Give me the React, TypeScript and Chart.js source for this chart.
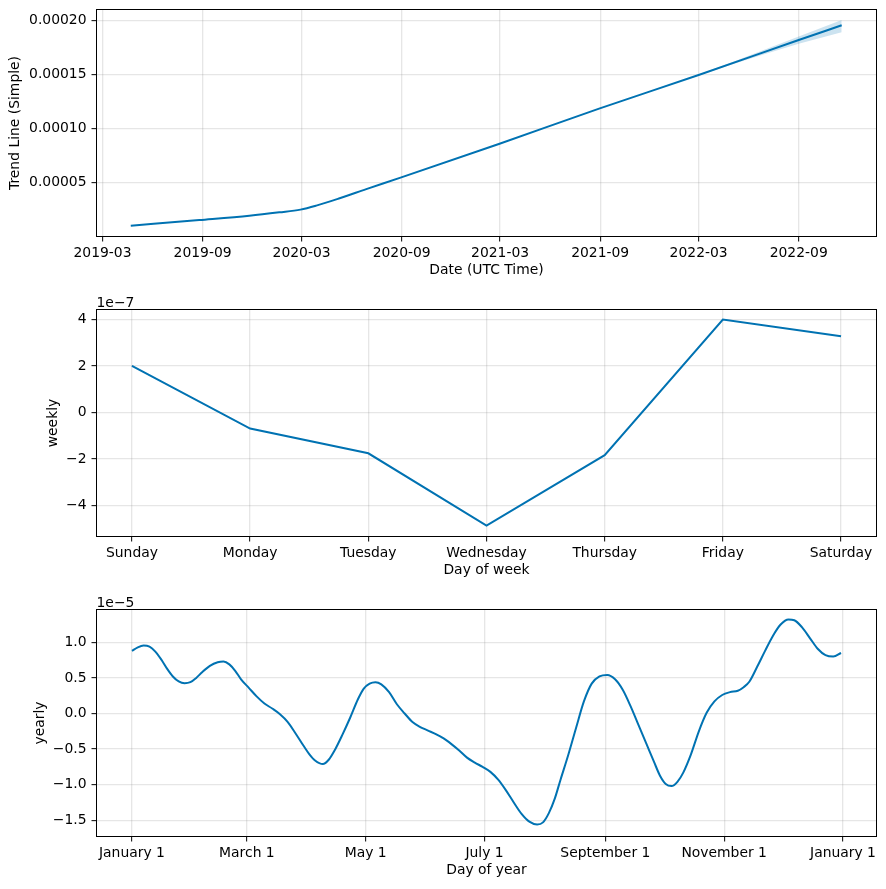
import React, { useEffect, useRef } from "react";
import { Chart, registerables } from "chart.js";

Chart.register(...registerables);

// ---------- Trend panel data ----------
const trendDates = [
  "2019-04-22", "2019-08-26", "2019-11-26", "2020-01-20", "2020-02-28",
  "2020-03-28", "2020-05-10", "2020-06-28", "2020-08-30", "2021-02-28",
  "2021-08-30", "2022-03-01", "2022-09-01", "2022-11-19",
];
const trendValues = [
  0.0000105, 0.0000157, 0.0000197, 0.0000228, 0.0000253,
  0.000029, 0.0000358, 0.0000442, 0.0000548, 0.0000861,
  0.0001185, 0.0001496, 0.0001818, 0.0001954,
];
const bandDates = ["2022-01-15", "2022-03-01", "2022-05-01", "2022-07-01", "2022-09-01", "2022-11-19"];
const bandUpper = [0.0001421, 0.0001500, 0.0001613, 0.0001731, 0.0001851, 0.0002003];
const bandLower = [0.0001419, 0.0001492, 0.0001593, 0.0001689, 0.0001785, 0.0001889];
const trendTickDates = [
  "2019-03-01", "2019-09-01", "2020-03-01", "2020-09-01",
  "2021-03-01", "2021-09-01", "2022-03-01", "2022-09-01",
];
const trendTickLabels = ["2019-03", "2019-09", "2020-03", "2020-09", "2021-03", "2021-09", "2022-03", "2022-09"];
const trendYTicks = [0.00005, 0.0001, 0.00015, 0.0002];

// ---------- Weekly panel data ----------
const weekDays = ["Sunday", "Monday", "Tuesday", "Wednesday", "Thursday", "Friday", "Saturday"];
const weeklyValues = [2.0e-7, -0.69e-7, -1.75e-7, -4.85e-7, -1.83e-7, 3.99e-7, 3.27e-7];
const weeklyYTicks = [-4e-7, -2e-7, 0, 2e-7, 4e-7];

// ---------- Yearly panel data (day of year, value) ----------
const yearDays = [
  0, 3, 6, 9, 12, 15, 18, 21, 24, 27, 30, 33, 36, 40, 44, 47, 50, 53, 56, 60,
  64, 68, 72, 76, 80, 84, 88, 91, 94, 98, 101, 104, 108, 112, 116, 119, 122, 125, 128, 132,
  136, 140, 144, 148, 152, 156, 160, 164, 168, 172, 176, 180, 184, 188, 192, 196, 200, 204, 208, 211,
  214, 217, 220, 224, 228, 232, 236, 240, 244, 248, 252, 256, 260, 264, 268, 271, 274, 277, 280, 283,
  287, 291, 295, 299, 303, 307, 311, 314, 317, 321, 325, 329, 333, 337, 340, 344, 348, 352, 356, 360, 364,
];
const yearlyValues = [
  0.88, 0.93, 0.955, 0.94, 0.87, 0.76, 0.63, 0.52, 0.45, 0.425, 0.44, 0.5, 0.58, 0.67, 0.72, 0.73, 0.69, 0.6, 0.48, 0.36,
  0.24, 0.14, 0.07, -0.01, -0.12, -0.28, -0.45, -0.57, -0.66, -0.71, -0.65, -0.52, -0.3, -0.06, 0.2, 0.35, 0.42, 0.44, 0.41, 0.3,
  0.13, 0.0, -0.12, -0.19, -0.24, -0.29, -0.35, -0.43, -0.52, -0.62, -0.69, -0.75, -0.82, -0.93, -1.08, -1.25, -1.41, -1.52, -1.56, -1.53,
  -1.4, -1.2, -0.93, -0.58, -0.2, 0.17, 0.42, 0.52, 0.54, 0.48, 0.33, 0.1, -0.16, -0.42, -0.68, -0.87, -0.99, -1.02, -0.96, -0.83,
  -0.57, -0.25, 0.01, 0.17, 0.26, 0.3, 0.32, 0.37, 0.45, 0.66, 0.88, 1.09, 1.25, 1.32, 1.31, 1.21, 1.06, 0.91, 0.82, 0.8, 0.85,
].map((v) => v * 1e-5);
const yearTickDays = [0, 59, 120, 181, 243, 304, 365];
const yearTickLabels = ["January 1", "March 1", "May 1", "July 1", "September 1", "November 1", "January 1"];
const yearlyYTicks = [-1.5e-5, -1.0e-5, -0.5e-5, 0, 0.5e-5, 1.0e-5];

// ---------- helpers ----------
const dayNum = (s: string) => {
  const [y, m, d] = s.split("-").map(Number);
  return Date.UTC(y, m - 1, d) / 86400000;
};

const FONT = { family: "'DejaVu Sans', sans-serif", size: 13.9 };
const BLUE = "#0072B2";
const GRID = "rgba(128,128,128,0.2)";
const PLOT_H = 227;
const AXIS_W = 96.5;
const RIGHT_PAD = 9.5;

const minus = (s: string) => s.replace("-", "\u2212");

const framePlugin = {
  id: "frame",
  afterDraw(chart: any, _args: any, opts: any) {
    const { ctx, chartArea: a } = chart;
    ctx.save();
    ctx.strokeStyle = "#000";
    ctx.lineWidth = 1;
    ctx.strokeRect(a.left, a.top, a.right - a.left, a.bottom - a.top);
    if (opts && opts.offsetText) {
      ctx.fillStyle = "#000";
      ctx.font = `${FONT.size}px ${FONT.family}`;
      ctx.textAlign = "left";
      ctx.textBaseline = "alphabetic";
      ctx.fillText(opts.offsetText, a.left, a.top - 2.8);
    }
    ctx.restore();
  },
};

function buildScales(p: {
  canvasH: number; plotTop: number;
  xMin: number; xMax: number; xTicks: number[]; xLabel: (v: number, i: number) => string; xTitle: string;
  yMin: number; yMax: number; yTicks: number[]; yLabel: (v: number) => string; yTitle: string; yTitlePad: number;
}) {
  const xH = p.canvasH - p.plotTop - PLOT_H;
  return {
    x: {
      type: "linear",
      min: p.xMin,
      max: p.xMax,
      afterBuildTicks: (s: any) => { s.ticks = p.xTicks.map((v) => ({ value: v })); },
      afterFit: (s: any) => { s.height = xH; s.paddingLeft = 0; s.paddingRight = 0; },
      ticks: {
        callback: (v: any, i: number) => p.xLabel(v, i),
        font: FONT, color: "#000", padding: 3.6, maxRotation: 0, autoSkip: false,
      },
      grid: { color: GRID, lineWidth: 1.3, tickColor: "#000", tickLength: 5, tickWidth: 1 },
      border: { display: false },
      title: {
        display: true, text: p.xTitle, font: FONT, color: "#000",
        padding: { top: 0, bottom: xH - 34 - FONT.size * 0.6 },
      },
    },
    y: {
      type: "linear",
      min: p.yMin,
      max: p.yMax,
      afterBuildTicks: (s: any) => { s.ticks = p.yTicks.map((v) => ({ value: v })); },
      afterFit: (s: any) => { s.width = AXIS_W; s.paddingTop = 0; s.paddingBottom = 0; },
      ticks: { callback: (v: any) => p.yLabel(v), font: FONT, color: "#000", padding: 5, autoSkip: false },
      grid: { color: GRID, lineWidth: 1.3, tickColor: "#000", tickLength: 5, tickWidth: 1 },
      border: { display: false },
      title: {
        display: true, text: p.yTitle, font: FONT, color: "#000",
        padding: { top: p.yTitlePad, bottom: 0 },
      },
    },
  };
}

function baseOptions(scales: any, plotTop: number, offsetText?: string) {
  return {
    responsive: false,
    maintainAspectRatio: false,
    animation: false,
    events: [],
    layout: { padding: { top: plotTop, right: RIGHT_PAD, left: 0, bottom: 0 } },
    plugins: { legend: { display: false }, tooltip: { enabled: false }, frame: { offsetText } },
    scales,
  };
}

function trendConfig(canvasH: number) {
  const plotTop = 9.5;
  const scales = buildScales({
    canvasH, plotTop,
    xMin: dayNum("2019-02-18"), xMax: dayNum("2023-01-22"),
    xTicks: trendTickDates.map(dayNum), xLabel: (_v, i) => trendTickLabels[i], xTitle: "Date (UTC Time)",
    yMin: 0.0000005, yMax: 0.00021, yTicks: trendYTicks, yLabel: (v) => Number(v).toFixed(5),
    yTitle: "Trend Line (Simple)", yTitlePad: 7,
  });
  return {
    type: "line",
    data: {
      datasets: [
        {
          data: trendDates.map((d, i) => ({ x: dayNum(d), y: trendValues[i] })),
          borderColor: BLUE, borderWidth: 2, pointRadius: 0, cubicInterpolationMode: "monotone", fill: false,
        },
        {
          data: bandDates.map((d, i) => ({ x: dayNum(d), y: bandUpper[i] })),
          borderColor: "rgba(0,0,0,0)", borderWidth: 0, pointRadius: 0, fill: false,
        },
        {
          data: bandDates.map((d, i) => ({ x: dayNum(d), y: bandLower[i] })),
          borderColor: "rgba(0,0,0,0)", borderWidth: 0, pointRadius: 0,
          fill: 1, backgroundColor: "rgba(0,114,178,0.2)",
        },
      ],
    },
    options: baseOptions(scales, plotTop),
    plugins: [framePlugin],
  };
}

function weeklyConfig(canvasH: number) {
  const plotTop = 19.5;
  const scales = buildScales({
    canvasH, plotTop,
    xMin: -0.3, xMax: 6.3,
    xTicks: weekDays.map((_d, i) => i), xLabel: (v) => weekDays[Math.round(v)], xTitle: "Day of week",
    yMin: -5.32e-7, yMax: 4.42e-7, yTicks: weeklyYTicks, yLabel: (v) => minus(String(Math.round(v / 1e-7))),
    yTitle: "weekly", yTitlePad: 44.7,
  });
  return {
    type: "line",
    data: {
      datasets: [
        {
          data: weeklyValues.map((v, i) => ({ x: i, y: v })),
          borderColor: BLUE, borderWidth: 2, pointRadius: 0, tension: 0, fill: false,
        },
      ],
    },
    options: baseOptions(scales, plotTop, "1e\u22127"),
    plugins: [framePlugin],
  };
}

function yearlyConfig(canvasH: number) {
  const plotTop = 19.5;
  const scales = buildScales({
    canvasH, plotTop,
    xMin: -18.2, xMax: 382.2,
    xTicks: yearTickDays, xLabel: (_v, i) => yearTickLabels[i], xTitle: "Day of year",
    yMin: -1.728e-5, yMax: 1.461e-5, yTicks: yearlyYTicks,
    yLabel: (v) => minus((Math.round((v / 1e-5) * 10) / 10).toFixed(1)),
    yTitle: "yearly", yTitlePad: 32.4,
  });
  return {
    type: "line",
    data: {
      datasets: [
        {
          data: yearDays.map((d, i) => ({ x: d, y: yearlyValues[i] })),
          borderColor: BLUE, borderWidth: 2, pointRadius: 0, cubicInterpolationMode: "monotone", fill: false,
        },
      ],
    },
    options: baseOptions(scales, plotTop, "1e\u22125"),
    plugins: [framePlugin],
  };
}

function Panel({ top, height, build }: { top: number; height: number; build: (h: number) => any }) {
  const ref = useRef<HTMLCanvasElement | null>(null);
  useEffect(() => {
    if (!ref.current) return;
    const chart = new Chart(ref.current, build(height));
    return () => chart.destroy();
  }, []);
  return (
    <canvas
      ref={ref}
      width={886}
      height={height}
      style={{ position: "absolute", left: 0, top, width: 886, height, display: "block" }}
    />
  );
}

export default function App() {
  return (
    <div style={{ position: "absolute", left: 0, top: 0, width: 886, height: 889, background: "#fff", overflow: "hidden" }}>
      <Panel top={0} height={290} build={trendConfig} />
      <Panel top={290} height={300} build={weeklyConfig} />
      <Panel top={590} height={299} build={yearlyConfig} />
    </div>
  );
}
